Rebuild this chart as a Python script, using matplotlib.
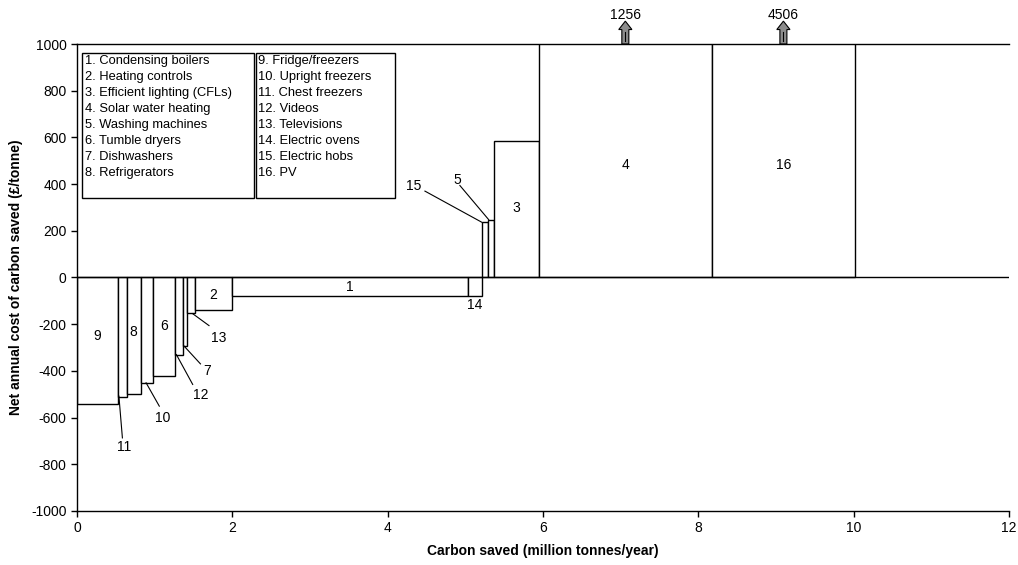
import numpy as np
import matplotlib
matplotlib.use("Agg")
import matplotlib.pyplot as plt
from matplotlib.patches import Rectangle, Polygon

plt.rcParams['font.family'] = ['Liberation Sans', 'DejaVu Sans']
plt.rcParams['axes.unicode_minus'] = False

# measures, in the order they sit along the x axis
measure_ids = ['9', '11', '8', '10', '6', '12', '7', '13', '2', '1', '14', '15', '5', '3', '4', '16']
carbon_saved = [0.53, 0.11, 0.18, 0.16, 0.28, 0.10, 0.06, 0.10, 0.48, 3.03,
                0.18, 0.08, 0.08, 0.58, 2.22, 1.85]   # million tonnes/year
net_cost = [-540, -510, -500, -453, -420, -330, -295, -153, -140, -80,
            -80, 237, 248, 584, 1256, 4506]           # GBP/tonne

legend_left = ['1. Condensing boilers', '2. Heating controls', '3. Efficient lighting (CFLs)',
               '4. Solar water heating', '5. Washing machines', '6. Tumble dryers',
               '7. Dishwashers', '8. Refrigerators']
legend_right = ['9. Fridge/freezers', '10. Upright freezers', '11. Chest freezers',
                '12. Videos', '13. Televisions', '14. Electric ovens',
                '15. Electric hobs', '16. PV']

# labels drawn inside their bar: id -> y of label
inside_y = {'9': -251, '8': -234, '6': -208, '2': -73, '1': -40, '3': 298, '4': 480, '16': 480}
# labels placed outside with a leader line:
# id -> (text x, text y, line end x, line end y, anchor dx from bar left, anchor y)
callouts = {
    '11': (0.605, -725, 0.585, -687, 0.01, -508),
    '10': (1.11, -600, 1.06, -551, 0.07, -451),
    '12': (1.60, -503, 1.49, -458, 0.02, -330),
    '7': (1.67, -400, 1.59, -370, 0.02, -294),
    '13': (1.82, -257, 1.70, -206, 0.07, -155),
    '15': (4.33, 394, 4.48, 370, 0.0, 237),
    '5': (4.90, 418, 4.93, 394, 0.01, 248),
}
below_label = {'14': -116}

YMAX = 1000

fig = plt.figure(figsize=(10.18, 5.65), dpi=100)
ax = fig.add_axes([0.0756, 0.0956, 0.9156, 0.8265])

lefts = np.concatenate([[0], np.cumsum(carbon_saved)[:-1]])
ax.bar(lefts, net_cost, width=carbon_saved, align='edge', facecolor='white',
       edgecolor='black', linewidth=1.0)
ax.axhline(0, color='black', lw=1.0)

ax.set_xlim(0, 12)
ax.set_ylim(-1000, YMAX)
ax.set_xticks(np.arange(0, 13, 2))
ax.set_yticks(np.arange(-1000, 1001, 200))
ax.tick_params(labelsize=10, length=4, width=1, direction='out')
ax.spines['right'].set_visible(False)
for s in ['left', 'bottom', 'top']:
    ax.spines[s].set_linewidth(1.0)
ax.set_xlabel('Carbon saved (million tonnes/year)', fontsize=10, fontweight='bold', labelpad=6)
ax.set_ylabel('Net annual cost of carbon saved (£/tonne)', fontsize=10, fontweight='bold', labelpad=6)

idx = {m: i for i, m in enumerate(measure_ids)}

for m, y in inside_y.items():
    i = idx[m]
    ax.text(lefts[i] + carbon_saved[i] / 2, y, m, ha='center', va='center', fontsize=10)

for m, (tx, ty, lx, ly, adx, ay) in callouts.items():
    i = idx[m]
    ax.plot([lefts[i] + adx, lx], [ay, ly], color='black', lw=0.8)
    ax.text(tx, ty, m, ha='center', va='center', fontsize=10)

for m, y in below_label.items():
    i = idx[m]
    ax.text(lefts[i] + carbon_saved[i] / 2, y, m, ha='center', va='center', fontsize=10)

# off-scale bars: grey arrow above the plot with the real value
for i, v in enumerate(net_cost):
    if v > YMAX:
        xc = lefts[i] + carbon_saved[i] / 2
        hw, sw = 0.085, 0.045
        pts = [(xc - sw, YMAX), (xc + sw, YMAX), (xc + sw, YMAX + 62),
               (xc + hw, YMAX + 62), (xc, YMAX + 98), (xc - hw, YMAX + 62),
               (xc - sw, YMAX + 62)]
        ax.add_patch(Polygon(pts, closed=True, facecolor='#8c8c8c', edgecolor='black',
                             lw=0.8, clip_on=False))
        ax.plot([xc, xc], [YMAX + 15, YMAX + 50], color='black', lw=0.8, clip_on=False)
        ax.text(xc, YMAX + 96, str(v), ha='center', va='bottom', fontsize=10)

# key boxes
ax.add_patch(Rectangle((0.005, 0.671), 0.185, 0.31, transform=ax.transAxes,
                       facecolor='white', edgecolor='black', lw=1.0, zorder=3))
ax.add_patch(Rectangle((0.1918, 0.671), 0.149, 0.31, transform=ax.transAxes,
                       facecolor='white', edgecolor='black', lw=1.0, zorder=3))
for k, t in enumerate(legend_left):
    ax.text(0.0086, 0.964 - k * 0.0343, t, transform=ax.transAxes, va='center',
            ha='left', fontsize=9.3, zorder=4)
for k, t in enumerate(legend_right):
    ax.text(0.1945, 0.964 - k * 0.0343, t, transform=ax.transAxes, va='center',
            ha='left', fontsize=9.3, zorder=4)

fig.savefig('out.png', dpi=100)
